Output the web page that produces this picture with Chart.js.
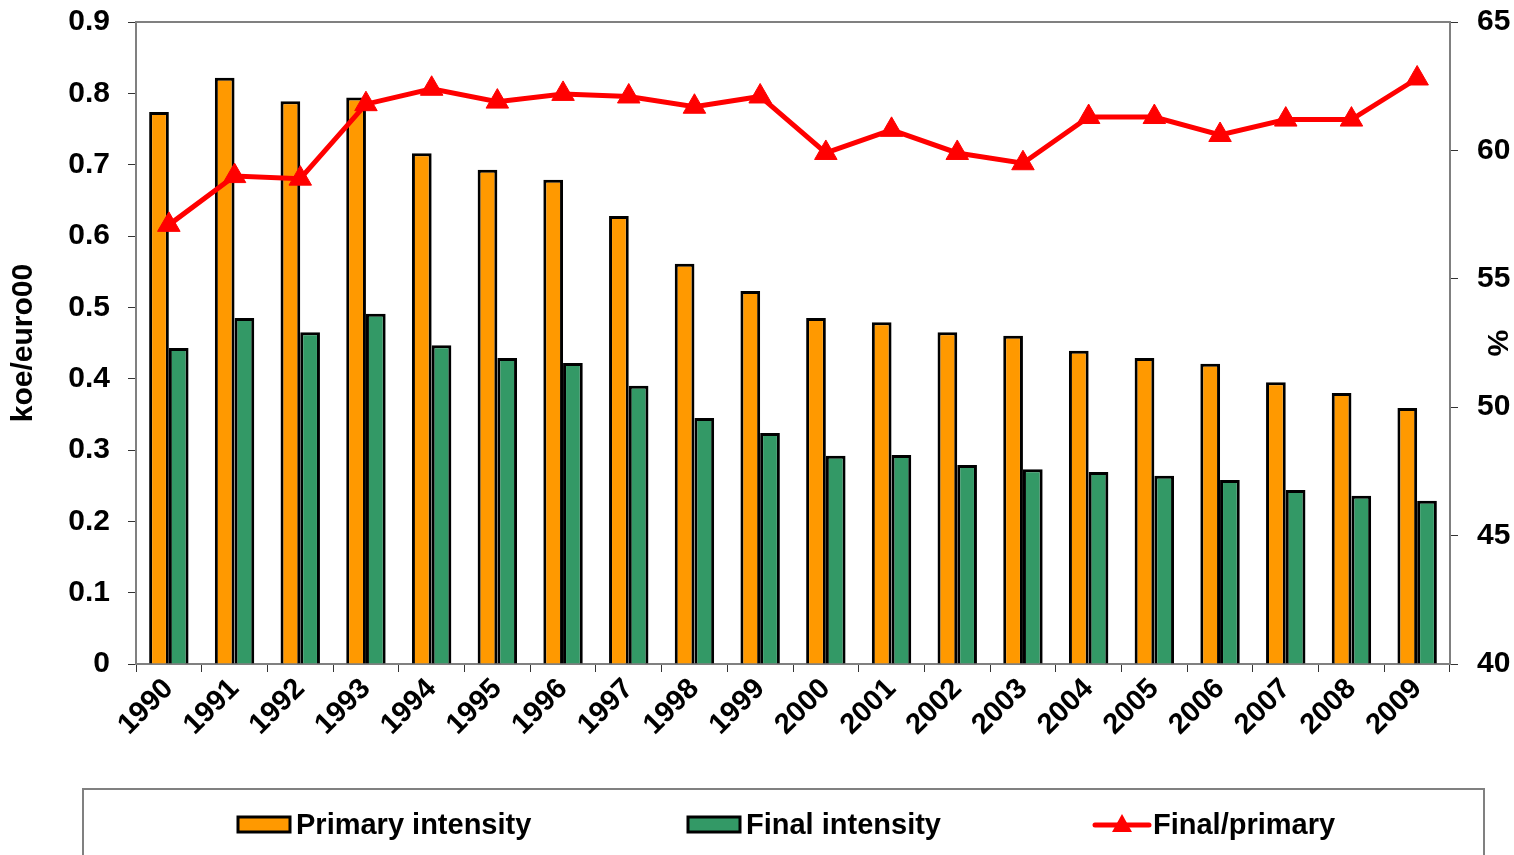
<!DOCTYPE html>
<html>
<head>
<meta charset="utf-8">
<script src="https://cdn.jsdelivr.net/npm/chart.js@4.4.1/dist/chart.umd.min.js"></script>
<style>
html, body { margin: 0; padding: 0; background: #fff; }
</style>
</head>
<body>
<canvas id="myChart" width="1514" height="855"></canvas>
<script>
const years = ['1990', '1991', '1992', '1993', '1994', '1995', '1996', '1997', '1998', '1999',
    '2000', '2001', '2002', '2003', '2004', '2005', '2006', '2007', '2008', '2009'];
const primaryIntensity = [0.774, 0.822, 0.789, 0.794, 0.716, 0.693, 0.679, 0.628, 0.561, 0.523,
    0.485, 0.479, 0.465, 0.460, 0.439, 0.429, 0.421, 0.395, 0.380, 0.359];
const finalIntensity = [0.443, 0.485, 0.465, 0.491, 0.447, 0.429, 0.422, 0.390, 0.345, 0.324,
    0.292, 0.293, 0.279, 0.273, 0.269, 0.264, 0.258, 0.244, 0.236, 0.229];
const finalPrimary = [57.1, 59.0, 58.9, 61.8, 62.4, 61.9, 62.2, 62.1, 61.7, 62.1,
    59.9, 60.8, 59.9, 59.5, 61.3, 61.3, 60.6, 61.2, 61.2, 62.8];
const leftTicks = [0, 0.1, 0.2, 0.3, 0.4, 0.5, 0.6, 0.7, 0.8, 0.9];
const rightTicks = [40, 45, 50, 55, 60, 65];

const ORANGE = '#FF9900';
const GREEN = '#339966';
const RED = '#FF0000';
const AXIS = '#808080';
const FONT = 'Liberation Sans, Arial, sans-serif';

// frame on top of plot + boxed legend below the axis
const extras = {
    id: 'extras',
    afterDraw(chart) {
        const c = chart.ctx;
        const a = chart.chartArea;
        c.save();
        c.strokeStyle = AXIS;
        c.lineWidth = 2;
        c.beginPath();
        c.moveTo(a.left, a.top);
        c.lineTo(a.right, a.top);
        c.stroke();

        // legend box
        c.strokeRect(83, 789, 1401, 80);
        const y = 825;
        const ds = chart.data.datasets;
        c.font = 'bold 29px ' + FONT;
        c.textBaseline = 'middle';
        const items = [
            { x: 238, ds: ds[1] },
            { x: 688, ds: ds[2] },
            { x: 1095, ds: ds[0] },
        ];
        items.forEach(it => {
            if (it.ds.type === 'line') {
                c.strokeStyle = RED;
                c.lineWidth = 5;
                c.lineCap = 'round';
                c.beginPath();
                c.moveTo(it.x, y);
                c.lineTo(it.x + 54, y);
                c.stroke();
                c.fillStyle = RED;
                c.beginPath();
                c.moveTo(it.x + 27, y - 11);
                c.lineTo(it.x + 37, y + 7);
                c.lineTo(it.x + 17, y + 7);
                c.closePath();
                c.fill();
            } else {
                c.fillStyle = it.ds.backgroundColor;
                c.fillRect(it.x, y - 8, 52, 15);
                c.strokeStyle = '#000';
                c.lineWidth = 3;
                c.strokeRect(it.x, y - 8, 52, 15);
            }
            c.fillStyle = '#000';
            c.textAlign = 'left';
            c.fillText(it.ds.label, it.x + 58, y + 1);
        });
        c.restore();
    }
};

let ctx = document.getElementById('myChart');

var myChart = new Chart(ctx, {
    type: 'bar',
    data: {
        labels: years,
        datasets: [{
            type: 'line',
            label: 'Final/primary',
            data: finalPrimary,
            yAxisID: 'y1',
            borderColor: RED,
            backgroundColor: RED,
            borderWidth: 5,
            pointStyle: 'triangle',
            pointRadius: 13,
            pointHoverRadius: 13,
            pointBorderWidth: 1,
            tension: 0,
            order: 0,
        }, {
            label: 'Primary intensity',
            data: primaryIntensity,
            backgroundColor: ORANGE,
            borderColor: '#000',
            borderWidth: 3,
            categoryPercentage: 0.6,
            barPercentage: 1,
            yAxisID: 'y',
            order: 1,
        }, {
            label: 'Final intensity',
            data: finalIntensity,
            backgroundColor: GREEN,
            borderColor: '#000',
            borderWidth: 3,
            categoryPercentage: 0.6,
            barPercentage: 1,
            yAxisID: 'y',
            order: 1,
        }],
    },
    options: {
        responsive: false,
        animation: false,
        devicePixelRatio: 1,
        layout: { padding: { top: 22, bottom: 0, left: 0, right: 0 } },
        plugins: {
            legend: { display: false },
            tooltip: { enabled: false },
        },
        scales: {
            x: {
                grid: { drawOnChartArea: false, tickLength: 8, color: '#333', offset: true },
                border: { color: AXIS, width: 2 },
                ticks: {
                    color: '#000',
                    font: { family: FONT, size: 29, weight: 'bold' },
                    minRotation: 45,
                    maxRotation: 45,
                    padding: 0,
                },
                afterFit(scale) { scale.height = 191; },
            },
            y: {
                position: 'left',
                min: 0,
                max: 0.9,
                afterBuildTicks(scale) { scale.ticks = leftTicks.map(v => ({ value: v })); },
                grid: { drawOnChartArea: false, tickLength: 8, color: '#333' },
                border: { color: AXIS, width: 2 },
                ticks: {
                    color: '#000',
                    font: { family: FONT, size: 30, weight: 'bold', lineHeight: 0.1 },
                    padding: 18,
                },
                title: {
                    display: true,
                    text: 'koe/euro00',
                    color: '#000',
                    font: { family: FONT, size: 30, weight: 'bold' },
                    padding: { top: 6, bottom: 0 },
                },
                afterFit(scale) { scale.width = 136; },
            },
            y1: {
                position: 'right',
                min: 40,
                max: 65,
                afterBuildTicks(scale) { scale.ticks = rightTicks.map(v => ({ value: v })); },
                grid: { drawOnChartArea: false, tickLength: 8, color: '#333' },
                border: { color: AXIS, width: 2 },
                ticks: {
                    color: '#000',
                    font: { family: FONT, size: 30, weight: 'bold', lineHeight: 0.1 },
                    padding: 19,
                },
                title: {
                    display: true,
                    text: '%',
                    color: '#000',
                    font: { family: FONT, size: 30, weight: 'bold' },
                    padding: { top: 0, bottom: 6 },
                },
                afterFit(scale) { scale.width = 64; },
            },
        },
    },
    plugins: [extras],
});
</script>
</body>
</html>
